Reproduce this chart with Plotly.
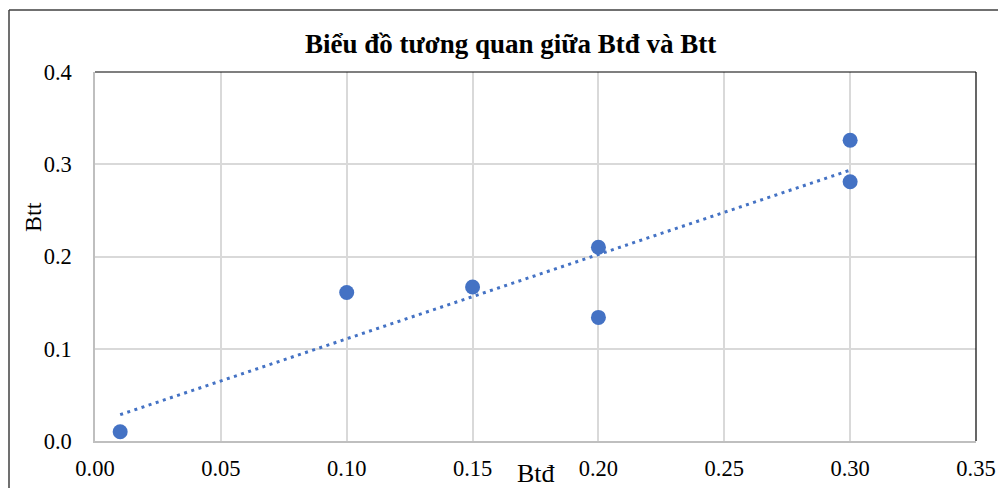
import plotly.graph_objects as go

# Data
btd = [0.01, 0.10, 0.15, 0.20, 0.20, 0.30, 0.30]
btt = [0.010, 0.161, 0.167, 0.210, 0.134, 0.326, 0.281]

# Linear trendline (as drawn in the reference)
trend_slope = 0.914
trend_intercept = 0.0194
trend_x = [min(btd), max(btd)]
trend_y = [trend_slope * v + trend_intercept for v in trend_x]

x_ticks = [0.00, 0.05, 0.10, 0.15, 0.20, 0.25, 0.30, 0.35]
y_ticks = [0.0, 0.1, 0.2, 0.3, 0.4]

title_text = "Biểu đồ tương quan giữa Btđ và Btt"
x_title = "Btđ"
y_title = "Btt"

BLUE = "#4472C4"
FONT = "Liberation Serif, Times New Roman, serif"

fig = go.Figure()
fig.add_trace(go.Scatter(
    x=trend_x, y=trend_y, mode="lines",
    line=dict(color=BLUE, width=3, dash="3px,4.5px"),
    hoverinfo="skip", showlegend=False,
))
fig.add_trace(go.Scatter(
    x=btd, y=btt, mode="markers",
    marker=dict(color=BLUE, size=15, line=dict(width=0)),
    showlegend=False,
))

L, R, T, B = 95, 24, 72, 49
W, H = 1000, 490
pw = W - L - R
ph = H - T - B

fig.update_layout(
    width=W, height=H,
    margin=dict(l=L, r=R, t=T, b=B, pad=0, autoexpand=False),
    paper_bgcolor="white", plot_bgcolor="white",
    font=dict(family=FONT, size=22.5, color="black"),
    xaxis=dict(
        range=[0, 0.35], tickvals=x_ticks,
        ticktext=[f"{v:.2f}" for v in x_ticks],
        showgrid=True, gridcolor="#d9d9d9", gridwidth=1.5,
        showline=True, linecolor="#bfbfbf", linewidth=1.5,
        zeroline=False, ticks="", ticklabelstandoff=6,
        mirror=False, automargin=False,
    ),
    yaxis=dict(
        range=[0, 0.4], tickvals=y_ticks,
        ticktext=[f"{v:.1f}" for v in y_ticks],
        showgrid=True, gridcolor="#d9d9d9", gridwidth=1.5,
        showline=True, linecolor="#bfbfbf", linewidth=1.5,
        zeroline=False, ticks="", ticklabelstandoff=17,
        automargin=False,
    ),
    shapes=[
        # black top and right plot border
        dict(type="line", xref="paper", yref="paper", x0=0, x1=1, y0=1, y1=1,
             line=dict(color="black", width=1.2)),
        dict(type="line", xref="paper", yref="paper", x0=1, x1=1, y0=0, y1=1,
             line=dict(color="black", width=1.2)),
        # outer chart border (left and top visible)
        dict(type="line", xref="paper", yref="paper",
             x0=(9 - L) / pw, x1=(998 - L) / pw,
             y0=(H - B - 10) / ph, y1=(H - B - 10) / ph,
             line=dict(color="#404040", width=1.5)),
        dict(type="line", xref="paper", yref="paper",
             x0=(9 - L) / pw, x1=(9 - L) / pw,
             y0=(H - B - 488) / ph, y1=(H - B - 10) / ph,
             line=dict(color="#404040", width=1.5)),
    ],
    annotations=[
        dict(text=f"<b>{title_text}</b>", xref="paper", yref="paper",
             x=(510 - L) / pw, y=(H - B - 44) / ph, showarrow=False,
             xanchor="center", yanchor="middle",
             font=dict(family=FONT, size=27, color="black")),
        dict(text=x_title, xref="paper", yref="paper",
             x=(536 - L) / pw, y=(H - B - 489) / ph, showarrow=False,
             xanchor="center", yanchor="bottom", borderpad=0,
             font=dict(family=FONT, size=26, color="black")),
        dict(text=y_title, xref="paper", yref="paper",
             x=(33 - L) / pw, y=(H - B - 217) / ph, showarrow=False,
             xanchor="center", yanchor="middle", textangle=-90,
             font=dict(family=FONT, size=24, color="black")),
    ],
)

fig.write_html(
    "out.html",
    config={"displayModeBar": False},
    post_script=(
        "document.documentElement.style.overflow='hidden';"
        "document.body.style.margin='0';document.body.style.padding='0';"
        "document.body.style.overflow='hidden';"
    ),
)
